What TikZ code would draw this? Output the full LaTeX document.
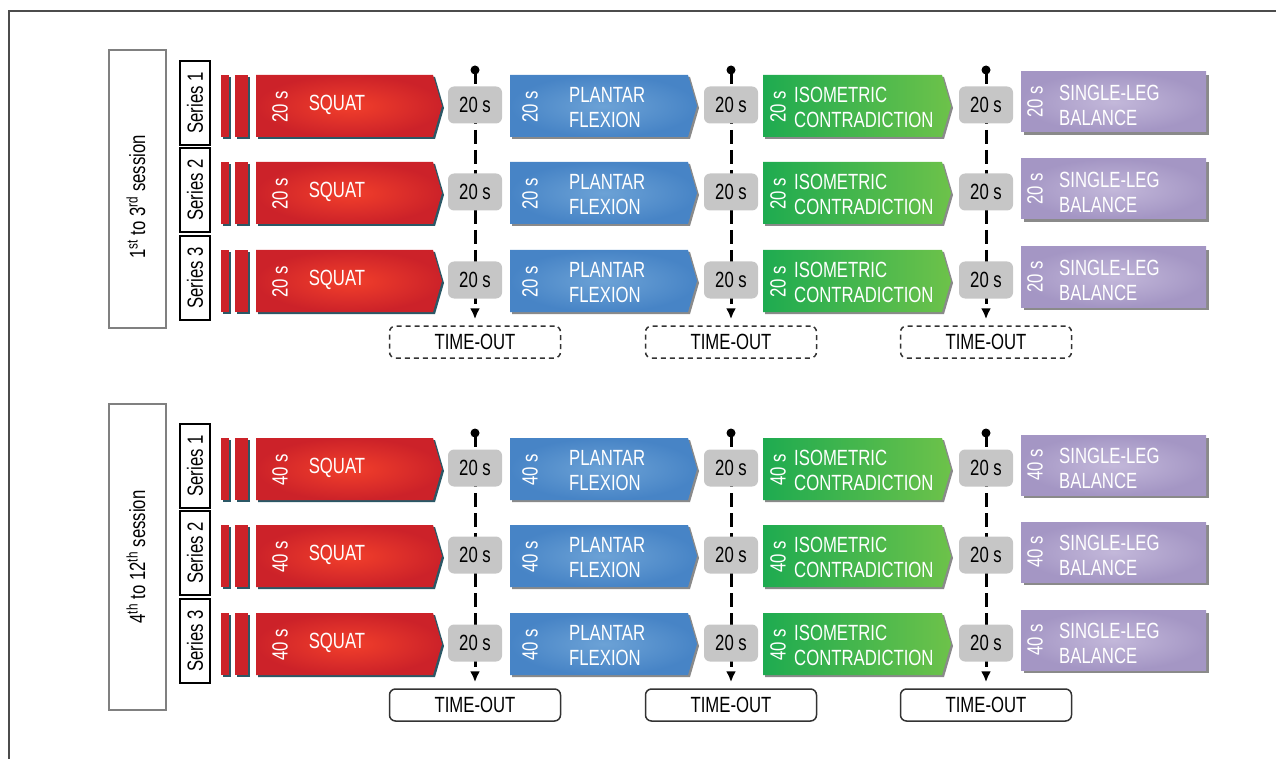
\documentclass[tikz,border=0pt]{standalone}
\usepackage{fontspec}
\setmainfont[FakeStretch=0.76]{Liberation Sans}
\usetikzlibrary{arrows.meta,calc,positioning}

\definecolor{squatred}{HTML}{CC2229}
\definecolor{squatlight}{HTML}{F23F2B}
\definecolor{plantarblue}{HTML}{4784C6}
\definecolor{plantarlight}{HTML}{6CA2D6}
\definecolor{isogreen}{HTML}{1EAB50}
\definecolor{isolight}{HTML}{6DC24A}
\definecolor{balancepurple}{HTML}{A496C4}
\definecolor{balancelight}{HTML}{C3B8DA}
\definecolor{pausegray}{HTML}{C6C6C6}
\definecolor{squatshadow}{HTML}{2B5866}
\definecolor{stepshadow}{HTML}{8A8A8A}

% left x, tip x, centre y, shadow colour, shading
\newcommand\chevron[5]{%
  \fill[#4] (#1+2,#3-29) -- (#2-7,#3-29) -- (#2+2,#3+2) -- (#2-7,#3+33) -- (#1+2,#3+33) -- cycle;
  \shade[#5] (#1,#3-31) -- (#2-9,#3-31) -- (#2,#3) -- (#2-9,#3+31) -- (#1,#3+31) -- cycle;}

\begin{document}
\begin{tikzpicture}[x=1pt,y=-1pt,
    every node/.style={inner sep=0pt,font=\fontsize{22}{25}\selectfont},
    sessionbox/.style={draw=black!50,line width=1.2pt,minimum width=57,minimum height=278},
    seriesbox/.style={draw=black,line width=2.2pt,fill=white,minimum width=84,minimum height=30},
    steptext/.style={text=white,align=left},
    redshade/.style={inner color=squatlight,outer color=squatred},
    blueshade/.style={inner color=plantarlight,outer color=plantarblue},
    greenshade/.style={left color=isogreen,right color=isolight},
    purpleshade/.style={inner color=balancelight,outer color=balancepurple},
    pausebox/.style={fill=pausegray,rounded corners=6pt,minimum width=54,minimum height=37},
    timeout/.style={draw=black!80,line width=1.5pt,rounded corners=6pt,fill=white,
      minimum width=171,minimum height=32},
    timeline/.style={line width=3pt,dash pattern=on 14pt off 6pt,
      -{Latex[length=11pt,width=10pt]},shorten >=6pt}]
    \useasboundingbox (0,0) rectangle (1276,759);
    \draw[black!70,line width=1.5pt] (9,759) -- (9,11) -- (1276,11);

    % session boxes
    \node[sessionbox] (ses-a) at (137.5,189) {};
    \node[rotate=90] (sestxt-a) at (136,197) {1\textsuperscript{st} to 3\textsuperscript{rd} session};
    \node[sessionbox,minimum height=306] (ses-b) at (137.5,557) {};
    \node[rotate=90] (sestxt-b) at (136,557) {4\textsuperscript{th} to 12\textsuperscript{th} session};

    \foreach \sec/\off/\dur in {a/0/20,b/363/40} {
      % exercise rows
      \foreach \r/\c in {1/106,2/193,3/281} {
        \pgfmathtruncatemacro\cy{\c+\off}
        \node[seriesbox,rotate=90] (ser-\sec-\r) at (195,\cy-3) {Series \r};
        \fill[squatshadow] (223,\cy-29) rectangle (231,\cy+33);
        \fill[squatshadow] (237,\cy-29) rectangle (250,\cy+33);
        \fill[squatred] (221,\cy-31) rectangle (229,\cy+31);
        \fill[squatred] (235,\cy-31) rectangle (248,\cy+31);
        \chevron{256}{442}{\cy}{squatshadow}{redshade}
        \chevron{510}{697}{\cy}{stepshadow}{blueshade}
        \chevron{763}{951}{\cy}{stepshadow}{greenshade}
        \fill[stepshadow] (1024,\cy-31) rectangle (1209,\cy+29);
        \shade[purpleshade] (1021,\cy-34) rectangle (1206,\cy+26);
        \node[steptext,rotate=90] (sqdur-\sec-\r) at (280,\cy+1) {\dur\ s};
        \node[steptext] (sq-\sec-\r) at (337,\cy-1) {SQUAT};
        \node[steptext,rotate=90] (pfdur-\sec-\r) at (530,\cy+1) {\dur\ s};
        \node[steptext,anchor=west] (pf-\sec-\r) at (569,\cy+2) {PLANTAR\\FLEXION};
        \node[steptext,rotate=90] (icdur-\sec-\r) at (778,\cy+1) {\dur\ s};
        \node[steptext,anchor=west] (ic-\sec-\r) at (794,\cy+1) {ISOMETRIC\\CONTRADICTION};
        \node[steptext,rotate=90] (sbdur-\sec-\r) at (1035,\cy-4) {\dur\ s};
        \node[steptext,anchor=west] (sb-\sec-\r) at (1059,\cy-1) {SINGLE-LEG\\BALANCE};
      }
      % time-outs
      \ifnum\off=0
        \tikzset{tostyle/.style={timeout,dash pattern=on 5pt off 4pt}}
      \else
        \tikzset{tostyle/.style={timeout}}
      \fi
      \foreach \k/\lx in {1/475,2/731,3/986} {
        \node[tostyle] (to-\sec-\k) at (\lx,342+\off) {TIME-OUT};
        \coordinate (dot-\sec-\k) at (\lx,70+\off);
        \fill (dot-\sec-\k) circle[radius=4.5pt];
        \draw[timeline] (dot-\sec-\k) -- (dot-\sec-\k |- to-\sec-\k.north);
      }
      % pauses
      \foreach \r/\c in {1/105,2/192,3/280} {
        \pgfmathtruncatemacro\cy{\c+\off}
        \foreach \k/\lx in {1/475,2/731,3/986}
          \node[pausebox] (p-\sec-\r-\k) at (\lx,\cy) {20 s};
      }
    }
  \end{tikzpicture}
\end{document}
